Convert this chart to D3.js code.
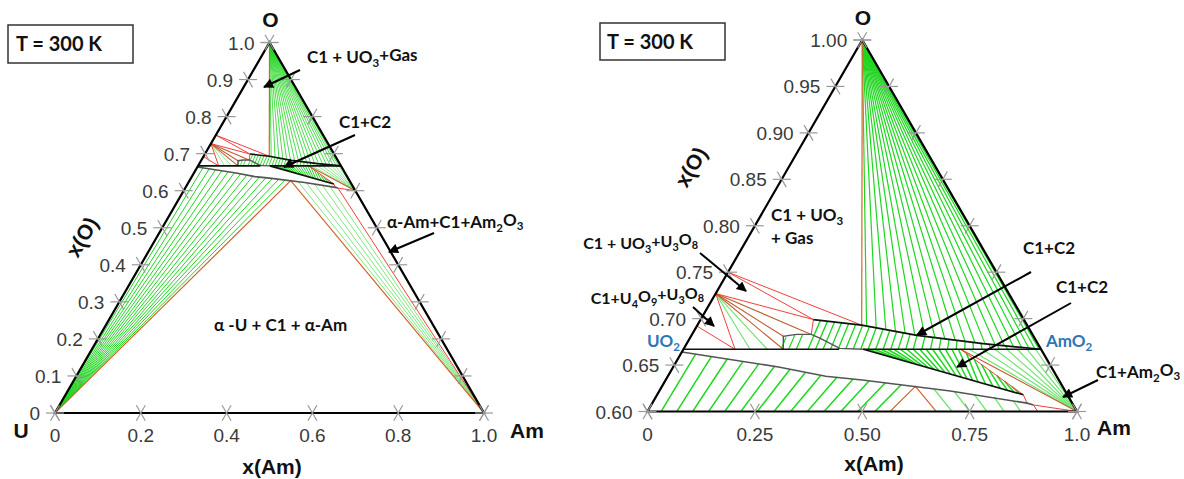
<!DOCTYPE html>
<html><head><meta charset="utf-8">
<script src="https://cdn.jsdelivr.net/npm/d3@7"></script>
<style>body{margin:0;background:#fff;} svg{display:block;}</style>
</head><body>
<svg id="chart" width="1184" height="479"></svg>
<script>
// ---------- DATA (compositions as [x(Am), x(O)]) ----------
const U_VERTEX = [0, 0];
const AM_VERTEX = [1, 0];
const O_VERTEX = [0, 1];
const UO3 = [0, 0.750];
const U3O8 = [0, 0.727];
const U4O9 = [0, 0.692];
const UO2 = [0, 0.667];
const AMO2 = [0.333, 0.667];
const AM2O3 = [0.400, 0.600];
const GAS_TRIANGLE_BASE = [0.153, 0.693];
const C1_CORNER_P1 = [0.105, 0.699];
const C1_CORNER_P2 = [0.111, 0.683];
const V_APEX = [0.236, 0.627];
const C1_END = [0.356, 0.607];
const WEDGE_TOP_RIGHT = [0.258, 0.667];
const WEDGE_TIP = [0.341, 0.618];
const U3O8_TIE_FOOT = [0.048, 0.667];

const upperBoundary = [[0.105,0.699],[0.153,0.693],[0.210,0.682],[0.276,0.673],[0.333,0.667]];
const lowerBoundary = [[0,0.664],[0.098,0.648],[0.147,0.638],[0.183,0.634],[0.271,0.622],[0.349,0.609],[0.356,0.607]];
const lensOutline = [[0.093,0.667],[0.086,0.681],[0.097,0.683],[0.111,0.683],[0.121,0.679],[0.145,0.668],[0.167,0.667]];
const stoichLeft = [[0,0.667],[0.145,0.667]];
const stoichRight = [[0.167,0.667],[0.333,0.667]];
const wedgeLower = [[0.1675,0.667],[0.341,0.618]];

// tie-line end points
const uFanEnds = [[0.014,0.662],[0.030,0.659],[0.046,0.6565],[0.062,0.654],[0.078,0.651],[0.094,0.649],[0.110,0.6455],[0.126,0.642],[0.142,0.639],[0.158,0.637],[0.174,0.635],[0.190,0.633],[0.206,0.631],[0.222,0.629]];
const amFanEnds = [[0.255,0.624],[0.275,0.6215],[0.295,0.6185],[0.315,0.6155],[0.335,0.6115]];
const oFanEnds = [[0.158,0.692],[0.168,0.690],[0.178,0.688],[0.188,0.686],[0.198,0.684],[0.208,0.682],[0.218,0.681],[0.228,0.6795],[0.238,0.678],[0.248,0.677],[0.258,0.6755],[0.268,0.674],[0.278,0.6728],[0.288,0.6717],[0.297,0.6708],[0.306,0.6698],[0.314,0.669],[0.321,0.6683],[0.327,0.6676],[0.331,0.6672]];
const am2o3FanEnds = [[0.266,0.667],[0.278,0.667],[0.290,0.667],[0.301,0.667],[0.311,0.667],[0.320,0.667],[0.328,0.667]];
const u3o8GreenEnds = [[0.062,0.667],[0.078,0.667]];
const upperTies = [
 [[0.112,0.6981],[0.116,0.667]],[[0.119,0.6973],[0.123,0.667]],[[0.126,0.6964],[0.130,0.667]],[[0.133,0.6955],[0.137,0.667]],
 [[0.140,0.6946],[0.144,0.667]],[[0.147,0.6938],[0.151,0.667]],[[0.154,0.6928],[0.158,0.667]],[[0.161,0.6915],[0.165,0.667]],
 [[0.168,0.6901],[0.172,0.667]],[[0.175,0.6888],[0.179,0.667]],[[0.182,0.6874],[0.186,0.667]],[[0.189,0.6861],[0.193,0.667]],
 [[0.196,0.6847],[0.200,0.667]],[[0.203,0.6834],[0.207,0.667]],[[0.210,0.682],[0.214,0.667]],[[0.218,0.6809],[0.222,0.667]],
 [[0.226,0.6798],[0.230,0.667]],[[0.234,0.6787],[0.238,0.667]],[[0.242,0.6776],[0.246,0.667]],[[0.250,0.6766],[0.254,0.667]],
 [[0.258,0.6755],[0.262,0.667]],[[0.266,0.6744],[0.270,0.667]],[[0.274,0.6733],[0.278,0.667]],[[0.282,0.6724],[0.286,0.667]],
 [[0.290,0.6715],[0.294,0.667]],[[0.298,0.6707],[0.302,0.667]]
];
const lensTies = [[[0.089,0.680],[0.091,0.667]],[[0.096,0.6825],[0.098,0.667]],[[0.103,0.683],[0.105,0.667]]];
const wedgeTies = [
 [[0.172,0.667],[0.202,0.6573]],[[0.178,0.667],[0.208,0.6556]],[[0.184,0.667],[0.214,0.6539]],[[0.190,0.667],[0.220,0.6522]],
 [[0.196,0.667],[0.226,0.6505]],[[0.202,0.667],[0.232,0.6488]],[[0.208,0.667],[0.238,0.6471]],[[0.214,0.667],[0.244,0.6454]],
 [[0.220,0.667],[0.250,0.6437]],[[0.226,0.667],[0.256,0.6420]],[[0.232,0.667],[0.262,0.6403]],[[0.238,0.667],[0.268,0.6386]],
 [[0.244,0.667],[0.274,0.6369]],[[0.250,0.667],[0.280,0.6352]],[[0.256,0.667],[0.286,0.6335]],
 [[0.266,0.6623],[0.292,0.6318]],[[0.276,0.6564],[0.300,0.6296]],[[0.286,0.6505],[0.308,0.6273]],[[0.296,0.6446],[0.316,0.6251]],
 [[0.306,0.6387],[0.324,0.6228]],[[0.316,0.6328],[0.331,0.6208]],[[0.326,0.6269],[0.337,0.6191]]
];
const redSegments = [
 [UO3, GAS_TRIANGLE_BASE],[UO3, C1_CORNER_P1],[U3O8, C1_CORNER_P1],[C1_CORNER_P1, C1_CORNER_P2],
 [U3O8, U3O8_TIE_FOOT],[U4O9, U3O8_TIE_FOOT],[WEDGE_TOP_RIGHT, WEDGE_TIP],[C1_END, AM2O3],[C1_END, AM_VERTEX],[WEDGE_TIP,[0.349,0.609]]
];
const brownSegments = [[U3O8, C1_CORNER_P2],[U3O8,[0.086,0.681]],[U3O8,[0.093,0.667]],[WEDGE_TOP_RIGHT, AM2O3]];

// axis ticks
const leftTicksA = [0,0.1,0.2,0.3,0.4,0.5,0.6,0.7,0.8,0.9,1.0];
const leftTickLabelsA = ["0","0.1","0.2","0.3","0.4","0.5","0.6","0.7","0.8","0.9","1.0"];
const bottomTicksA = [0,0.2,0.4,0.6,0.8,1.0];
const bottomTickLabelsA = ["0","0.2","0.4","0.6","0.8","1.0"];
const leftTicksB = [0.60,0.65,0.70,0.75,0.80,0.85,0.90,0.95,1.00];
const leftTickLabelsB = ["0.60","0.65","0.70","0.75","0.80","0.85","0.90","0.95","1.00"];
const bottomTicksB = [0,0.25,0.50,0.75,1.0];
const bottomTickLabelsB = ["0","0.25","0.50","0.75","1.0"];

// ---------- DRAWING ----------
const svg = d3.select("#chart");
const defs = svg.append("defs");
defs.append("marker").attr("id","arr").attr("viewBox","0 0 10 10").attr("refX",9).attr("refY",5)
  .attr("markerWidth",12).attr("markerHeight",10).attr("markerUnits","userSpaceOnUse").attr("orient","auto")
  .append("path").attr("d","M0,0 L10,5 L0,10 z").attr("fill","#000");

const GREEN = "#1fd61f", LGREEN = "#72e472", RED = "#f0403c", BROWN = "#bf5c2e", ORANGE = "#d2662e";
const LABEL_FONT = "Lato, 'Open Sans', sans-serif";
const TICK_FONT = "'Liberation Sans', Arial, sans-serif";

function projector(cfg) {
  const oN = d3.scaleLinear().domain([cfg.oMin, 1]).range([0, 1]);
  const aN = d3.scaleLinear().domain([0, 1 - cfg.oMin]).range([0, 1]);
  const px = d3.scaleLinear().domain([0, 1]).range([cfg.x0, cfg.x0 + cfg.w]);
  const py = d3.scaleLinear().domain([0, 1]).range([cfg.y0, cfg.y0 - cfg.h]);
  const norm = (an, on) => [px(an + on / 2), py(on)];
  const comp = (d) => norm(aN(d[0]), oN(d[1]));
  return { norm, comp, oN };
}

function rich(g, x, y, str, o) {
  const t = g.append("text").attr("x", x).attr("y", y)
    .attr("font-family", o.family || LABEL_FONT).attr("font-weight", o.weight || "bold")
    .attr("font-size", o.size || 16).attr("fill", o.fill || "#111")
    .attr("text-anchor", o.anchor || "start");
  let shifted = false;
  str.split(/(\{[^}]*\})/).forEach(p => {
    if (!p) return;
    if (p[0] === "{") {
      t.append("tspan").attr("font-size", "68%").attr("dy", shifted ? 0 : "0.35em").text(p.slice(1, -1));
      shifted = true;
    } else {
      const ts = t.append("tspan").text(p);
      if (shifted) { ts.attr("dy", "-0.35em"); shifted = false; }
    }
  });
  return t;
}

function drawPanel(id, cfg, ticksL, labelsL, ticksB, labelsB, gw) {
  const P = projector(cfg);
  const line = d3.line().x(d => P.comp(d)[0]).y(d => P.comp(d)[1]);
  const tri = [P.norm(0,0), P.norm(1,0), P.norm(0,1)];
  defs.append("clipPath").attr("id", "clip" + id).append("polygon").attr("points", tri.map(p => p.join(",")).join(" "));
  const g = svg.append("g").attr("clip-path", `url(#clip${id})`);
  const seg = (data, color, w) => g.append("g").selectAll("path").data(data).join("path")
      .attr("d", d => line(d)).attr("fill", "none").attr("stroke", color).attr("stroke-width", w);

  seg(uFanEnds.map(e => [U_VERTEX, e]), GREEN, gw);
  seg(amFanEnds.map(e => [AM_VERTEX, e]), LGREEN, gw * 0.9);
  seg(oFanEnds.map(e => [O_VERTEX, e]), GREEN, gw * 0.8);
  seg(am2o3FanEnds.map(e => [AM2O3, e]), LGREEN, gw * 0.8);
  seg(upperTies, GREEN, gw * 0.9);
  seg(lensTies, GREEN, gw * 0.8);
  seg(wedgeTies, GREEN, gw);
  seg(u3o8GreenEnds.map(e => [U3O8, e]), LGREEN, gw * 0.8);
  seg(redSegments, RED, 1);
  seg(brownSegments, BROWN, 1.1);
  seg([[U_VERTEX, V_APEX, AM_VERTEX]], ORANGE, 1.2);
  seg([[O_VERTEX, GAS_TRIANGLE_BASE]], ORANGE, 1.2);
  seg([lowerBoundary], "#555", 1.6);
  seg([lensOutline], "#555", 1.4);
  seg([upperBoundary, stoichLeft, stoichRight, wedgeLower], "#111", 1.7);

  // outline
  svg.append("polygon").attr("points", tri.map(p => p.join(",")).join(" "))
    .attr("fill", "none").attr("stroke", "#000").attr("stroke-width", 2.2).attr("stroke-linejoin", "miter");

  // ticks
  const tg = svg.append("g").attr("stroke", "#999").attr("stroke-width", 1.2);
  const L = 9, c = 0.5, s = 0.866;
  const cross = (p, dirs) => dirs.forEach(([dx, dy]) =>
    tg.append("line").attr("x1", p[0] - dx * L).attr("y1", p[1] - dy * L).attr("x2", p[0] + dx * L).attr("y2", p[1] + dy * L));
  ticksL.forEach(v => {
    const on = P.oN(v);
    cross(P.norm(0, on), [[1, 0], [c, s]]);
    cross(P.norm(1 - on, on), [[1, 0], [c, -s]]);
  });
  ticksB.forEach(v => cross(P.norm(v, 0), [[c, -s], [c, s]]));

  const lab = svg.append("g").attr("font-family", TICK_FONT).attr("font-size", 19).attr("fill", "#3a3a3a");
  ticksL.forEach((v, i) => {
    const p = P.norm(0, P.oN(v));
    lab.append("text").attr("x", p[0] - 15).attr("y", p[1] + 7).attr("text-anchor", "end").text(labelsL[i]);
  });
  ticksB.forEach((v, i) => {
    const p = P.norm(v, 0);
    lab.append("text").attr("x", p[0]).attr("y", p[1] + 29).attr("text-anchor", "middle").text(labelsB[i]);
  });
  return P;
}

drawPanel("A", {x0: 55, y0: 413, w: 429, h: 370.5, oMin: 0}, leftTicksA, leftTickLabelsA, bottomTicksA, bottomTickLabelsA, 1.0);
drawPanel("B", {x0: 647.5, y0: 411.5, w: 429.5, h: 371.5, oMin: 0.6}, leftTicksB, leftTickLabelsB, bottomTicksB, bottomTickLabelsB, 1.5);

// ---------- annotations ----------
const ann = svg.append("g");
function box(x, y, w, h, txt, tx) {
  ann.append("rect").attr("x", x).attr("y", y).attr("width", w).attr("height", h)
    .attr("fill", "#fff").attr("stroke", "#333").attr("stroke-width", 1.5);
  rich(ann, tx, y + h / 2 + 7, txt, {size: 20, weight: "bold", fill: "#111"});
}
box(8, 25, 125, 38, "T = 300 K", 16);
box(600, 23, 125, 37, "T = 300 K", 607);

const AXIS_TEXT = [
  {t: "O", x: 270.5, y: 27, r: 0}, {t: "U", x: 21, y: 438, r: 0}, {t: "Am", x: 527, y: 438, r: 0},
  {t: "x(Am)", x: 272, y: 474, r: 0}, {t: "x(O)", x: 82, y: 237, r: -60},
  {t: "O", x: 863, y: 25, r: 0}, {t: "Am", x: 1114, y: 435, r: 0},
  {t: "x(Am)", x: 874, y: 471, r: 0}, {t: "x(O)", x: 691, y: 167, r: -60}
];
AXIS_TEXT.forEach(d => {
  ann.append("text").attr("transform", `translate(${d.x},${d.y}) rotate(${d.r})`)
    .attr("text-anchor", "middle").attr("dy", d.r ? "0.35em" : 0)
    .attr("font-family", "'Liberation Sans', Arial, sans-serif").attr("font-weight", "bold")
    .attr("font-size", 21).attr("fill", "#111").text(d.t);
});

const PHASE_LABELS = [
  {t: "C1 + UO{3}+Gas", x: 307, y: 63, a: "start", s: 17},
  {t: "C1+C2", x: 339, y: 128, a: "start", s: 17},
  {t: "α-Am+C1+Am{2}O{3}", x: 387, y: 228, a: "start", s: 17},
  {t: "α -U + C1 + α-Am", x: 214, y: 331, a: "start", s: 17},
  {t: "C1 + UO{3}", x: 771, y: 221, a: "start", s: 17},
  {t: "+ Gas", x: 771, y: 244, a: "start", s: 17},
  {t: "C1 + UO{3}+U{3}O{8}", x: 698, y: 249, a: "end", s: 16},
  {t: "C1+U{4}O{9}+U{3}O{8}", x: 704, y: 304, a: "end", s: 16},
  {t: "C1+C2", x: 1023, y: 254, a: "start", s: 17},
  {t: "C1+C2", x: 1056, y: 293, a: "start", s: 17},
  {t: "C1+Am{2}O{3}", x: 1096, y: 378, a: "start", s: 17},
  {t: "UO{2}", x: 647, y: 347, a: "start", f: "#2e75b6", s: 17},
  {t: "AmO{2}", x: 1046, y: 347, a: "start", f: "#2e75b6", s: 17}
];
PHASE_LABELS.forEach(d => rich(ann, d.x, d.y, d.t, {size: d.s, anchor: d.a, fill: d.f || "#111"}));

const ARROWS = [
  [300, 70, 264, 87], [355, 135, 284, 167], [434, 233, 389, 252],
  [700, 253, 746, 291], [693, 307, 714, 326], [1031, 272, 917, 335],
  [1071, 303, 957, 367], [1098, 380, 1063, 397]
];
ann.selectAll("line.arrow").data(ARROWS).join("line").attr("class", "arrow")
  .attr("x1", d => d[0]).attr("y1", d => d[1]).attr("x2", d => d[2]).attr("y2", d => d[3])
  .attr("stroke", "#000").attr("stroke-width", 2).attr("marker-end", "url(#arr)");
</script>
</body></html>
